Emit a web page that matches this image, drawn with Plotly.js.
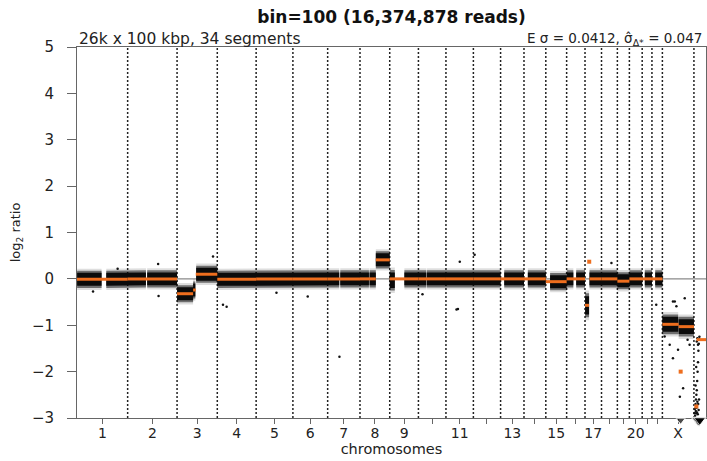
<!DOCTYPE html>
<html><head><meta charset="utf-8">
<script src="https://cdn.plot.ly/plotly-3.0.1.min.js"></script>
<style>html,body{margin:0;padding:0;background:#fff}</style>
</head><body><div id="chart" style="width:707px;height:461px"></div>
<script>
// ---- data ----
const chromNames = ['1','2','3','4','5','6','7','8','9','10','11','12','13','14','15','16','17','18','19','20','21','22','X','Y'];
const chromLengthsMb = [249.3,243.2,198.0,191.2,180.9,171.1,159.1,146.4,141.2,135.5,135.0,133.9,115.2,107.4,102.5,90.4,81.2,78.1,59.1,63.0,48.1,51.3,155.3,59.4];
const tickLabels = ['1','2','3','4','5','6','7','8','9','','11','','13','','15','','17','','','20','','','X',''];

// regions holding bins (black cloud): chromosome, start Mb, end Mb, level, spread
const bandChrom  = ['1','1','2','2','3','3','3','4','5','6','7','7','8','8','8','9','9','10','10','11','12','13','14','15','16','16','17','17','18','19','20','21','22','X','X'];
const bandStart  = [0.5,144,0,96,0,79,94,0,0,0,0,62,0,47,78,0,72,0,42,0,0,18,19,21,0.5,47,0.5,22,0,0,0,13,16,0,80];
const bandEnd    = [121,249.3,90,243.2,79,90,198,191.2,180.9,171.1,57,159.1,44,78,146.4,25,141.2,39,135.5,135,133.9,115.2,107.4,102.5,33,90.4,20,81.2,78.1,59.1,63,48.1,51.3,78,155.3];
const bandLevel  = [-0.01,-0.01,0,0,-0.32,-0.24,0.10,-0.01,0,0,0,0,0,0,0.41,-0.03,0,0,0,0,0,0,0,-0.06,0,0,-0.57,0,0,-0.04,0,0,0,-0.98,-1.03];
const bandSpread = [1,1,1,1,1,1,1,1,1,1,1,1,1,1,1,1.2,1,1,1,1,1,1,1,1,1,1,1.4,1,1,1,1,1,1,1.15,1.15];

// segment calls (orange): chromosome, start Mb, end Mb, value
const segChrom = ['1','2','3','3','3','4','5','6','7','8','8','9','10','11','12','13','14','15','16','17','17','17','18','19','20','21','22','X','X','X','Y','Y'];
const segStart = [0,0,0,79,92,0,0,0,0,0,78,0,0,0,0,0,0,0,0,0,20,21.5,0,0,0,0,0,0,80,89.5,11,13];
const segEnd   = [249.3,243.2,79,92,198,191.2,180.9,171.1,159.1,78,146.4,141.2,135.5,135,133.9,115.2,107.4,102.5,90.4,20,21.5,81.2,78.1,59.1,63,48.1,51.3,80,155.3,90.5,13,59.4];
const segValue = [-0.01,0,-0.32,-0.24,0.10,-0.01,0,0,0,0,0.41,0,0,0,0,0,0,-0.06,0,-0.57,0.37,0,0,-0.05,0,0,0,-0.98,-1.03,-2.0,-2.75,-1.31];

// isolated bins
const outChrom = ['1','1','2','2','4','4','5','6','7','10','11','11','11','12','18','22','3','X','X','X','X','X','X','X','X','X','X','X','X',
                  'Y','Y','Y','Y','Y','Y','Y','Y','Y','Y','Y','Y','Y','Y','Y','Y','Y','Y','Y','Y','Y','Y','Y','Y','Y','Y','Y','Y'];
const outMb    = [79,200,150,152,28,46,100,73,58,20,59,52,68,6,49,21,177,11,52,69,61,110,52,77,102,86,36,124,134,
                  3,5,6,8,9,10,11,12,13,14,15,16,17,18,19,20,21,22,23,24,25,26,27,14,17,20,8,11];
const outVal   = [-0.27,0.22,0.32,-0.37,-0.56,-0.6,-0.3,-0.38,-1.68,-0.33,-0.65,-0.66,0.37,0.52,0.34,-0.56,0.48,-1.24,-0.49,-0.59,-0.49,-0.42,-1.71,-1.53,-2.36,-2.54,-1.42,-1.31,-1.42,
                  -2.9,-2.8,-2.95,-2.7,-2.85,-2.6,-2.9,-2.5,-2.78,-2.4,-2.88,-2.2,-2.65,-2.0,-2.92,-1.8,-2.7,-1.55,-2.83,-1.4,-2.6,-1.3,-1.25,-1.35,-1.28,-1.42,-2.3,-1.9];

// bins below the plotted range (drawn as triangles on the lower edge)
const clipChrom = ['X','Y','Y','Y','Y'];
const clipMb    = [90,18,22,26,29];

// ---- build ----
const binMb = 0.1;
const offsets = [];
let acc = 0;
chromLengthsMb.forEach(l => { offsets.push(acc); acc += l / binMb; });
const totalBins = acc;
const gx = (c, mb) => offsets[chromNames.indexOf(c)] + mb / binMb;
const centers = chromLengthsMb.map((l, i) => offsets[i] + l / binMb / 2);

// group contiguous cloud regions so neighbouring regions share one outline
const bandRuns = [];
for (let i = 0; i < bandChrom.length; i++) {
  const r = {x0: gx(bandChrom[i], bandStart[i]), x1: gx(bandChrom[i], bandEnd[i]), c: bandLevel[i], s: bandSpread[i]};
  const last = bandRuns.length ? bandRuns[bandRuns.length - 1] : null;
  if (last && Math.abs(last[last.length - 1].x1 - r.x0) < 1) last.push(r); else bandRuns.push([r]);
}
function bandTrace(w, color) {
  const x = [], y = [];
  bandRuns.forEach(run => {
    run.forEach(r => { x.push(r.x0, r.x1); y.push(r.c + w * r.s, r.c + w * r.s); });
    for (let k = run.length - 1; k >= 0; k--) { const r = run[k]; x.push(r.x1, r.x0); y.push(r.c - w * r.s, r.c - w * r.s); }
    x.push(run[0].x0, null); y.push(run[0].c + w * run[0].s, null);
  });
  return {x, y, type: 'scatter', mode: 'lines', fill: 'toself', fillcolor: color,
          line: {width: 0}, hoverinfo: 'skip', showlegend: false};
}

const segX = [], segY = [], dotX = [], dotY = [];
for (let i = 0; i < segChrom.length; i++) {
  const x0 = gx(segChrom[i], segStart[i]), x1 = gx(segChrom[i], segEnd[i]);
  if (segEnd[i] - segStart[i] < 3) { dotX.push((x0 + x1) / 2); dotY.push(segValue[i]); }
  else { segX.push(x0, x1, null); segY.push(segValue[i], segValue[i], null); }
}

// geometry: main panel spans y in [-3,5]; a hidden overlay panel reaches a little lower
const marginB = 31, marginT = 47, figH = 461;
const extraPx = 12;
const paperH = figH - marginT - marginB;
const dLow = extraPx / paperH;
const yLow2 = -3 - 8 * extraPx / (paperH - extraPx);

const traces = [
  bandTrace(0.23, 'rgba(0,0,0,0.13)'),
  bandTrace(0.185, 'rgba(0,0,0,0.5)'),
  bandTrace(0.14, '#0b0b0b'),
  {x: outChrom.map((c, i) => gx(c, outMb[i])), y: outVal, type: 'scatter', mode: 'markers',
   marker: {size: 2.5, color: '#111'}, hoverinfo: 'skip', showlegend: false},
  {x: segX, y: segY, type: 'scatter', mode: 'lines', line: {color: '#EE6E1E', width: 3},
   hoverinfo: 'skip', showlegend: false},
  {x: dotX, y: dotY, type: 'scatter', mode: 'markers', marker: {symbol: 'square', size: 4, color: '#EE6E1E'},
   hoverinfo: 'skip', showlegend: false},
  {x: clipChrom.map((c, i) => gx(c, clipMb[i])), y: clipChrom.map(() => -3.05), type: 'scatter', mode: 'markers',
   xaxis: 'x2', yaxis: 'y2', cliponaxis: false,
   marker: {symbol: 'triangle-down', size: [8, 11, 12, 12, 10], color: '#000'},
   hoverinfo: 'skip', showlegend: false}
];

const shapes = [{type: 'line', xref: 'x', yref: 'y', x0: 0, x1: totalBins, y0: 0, y1: 0,
                 line: {color: '#8a8a8a', width: 1.2}, layer: 'below'}];
for (let i = 1; i < offsets.length; i++) {
  shapes.push({type: 'line', xref: 'x', yref: 'y', x0: offsets[i], x1: offsets[i], y0: -3, y1: 5,
               line: {color: '#222', width: 1.5, dash: '2px,2px'}, layer: 'below'});
}

const fontFam = 'DejaVu Sans, Liberation Sans, Arial, sans-serif';
const layout = {
  width: 707, height: figH,
  margin: {l: 77, r: 1, t: marginT, b: marginB},
  paper_bgcolor: '#fff', plot_bgcolor: 'rgba(0,0,0,0)',
  font: {family: fontFam, color: '#222', size: 13},
  title: {text: '<b>bin=100 (16,374,878 reads)</b>', font: {size: 17, family: fontFam, color: '#111'},
          x: 0.5, xref: 'paper', y: 0.962, yref: 'container', xanchor: 'center', yanchor: 'middle'},
  showlegend: false,
  xaxis: {range: [0, totalBins], tickmode: 'array', tickvals: centers, ticktext: tickLabels,
          ticks: 'outside', ticklen: 5, tickwidth: 1, tickcolor: '#666', ticklabelstandoff: -3,
          showline: true, mirror: true, linecolor: '#666', linewidth: 1, anchor: 'y',
          showgrid: false, zeroline: false, tickfont: {size: 14},
          title: {text: 'chromosomes', font: {size: 14.5}, standoff: 2}},
  yaxis: {range: [-3, 5], domain: [dLow, 1], tickmode: 'linear', tick0: 0, dtick: 1,
          ticks: 'outside', ticklen: 9, tickwidth: 1, tickcolor: '#666', ticklabelstandoff: 10,
          showline: true, mirror: true, linecolor: '#666', linewidth: 1, anchor: 'x',
          showgrid: false, zeroline: false, tickfont: {size: 15},
          title: {text: 'log<sub>2</sub> ratio', font: {size: 13}, standoff: 8}},
  xaxis2: {range: [0, totalBins], anchor: 'y2', visible: false, showgrid: false, zeroline: false},
  yaxis2: {range: [yLow2, 5], domain: [0, 1], anchor: 'x2', visible: false, showgrid: false, zeroline: false},
  shapes: shapes,
  annotations: [
    {text: '26k x 100 kbp, 34 segments', xref: 'paper', yref: 'paper', x: 0, y: 1, xanchor: 'left', yanchor: 'bottom',
     showarrow: false, font: {size: 15.5}, yshift: -3},
    {text: 'E σ = 0.0412, σ\u0302<sub>Δ*</sub> = 0.047', xref: 'paper', yref: 'paper', x: 1, y: 1, xanchor: 'right', yanchor: 'bottom',
     showarrow: false, font: {size: 13.5}, yshift: -3, xshift: -2}
  ]
};

Plotly.newPlot('chart', traces, layout, {displayModeBar: false, staticPlot: true});
</script>
</body></html>
